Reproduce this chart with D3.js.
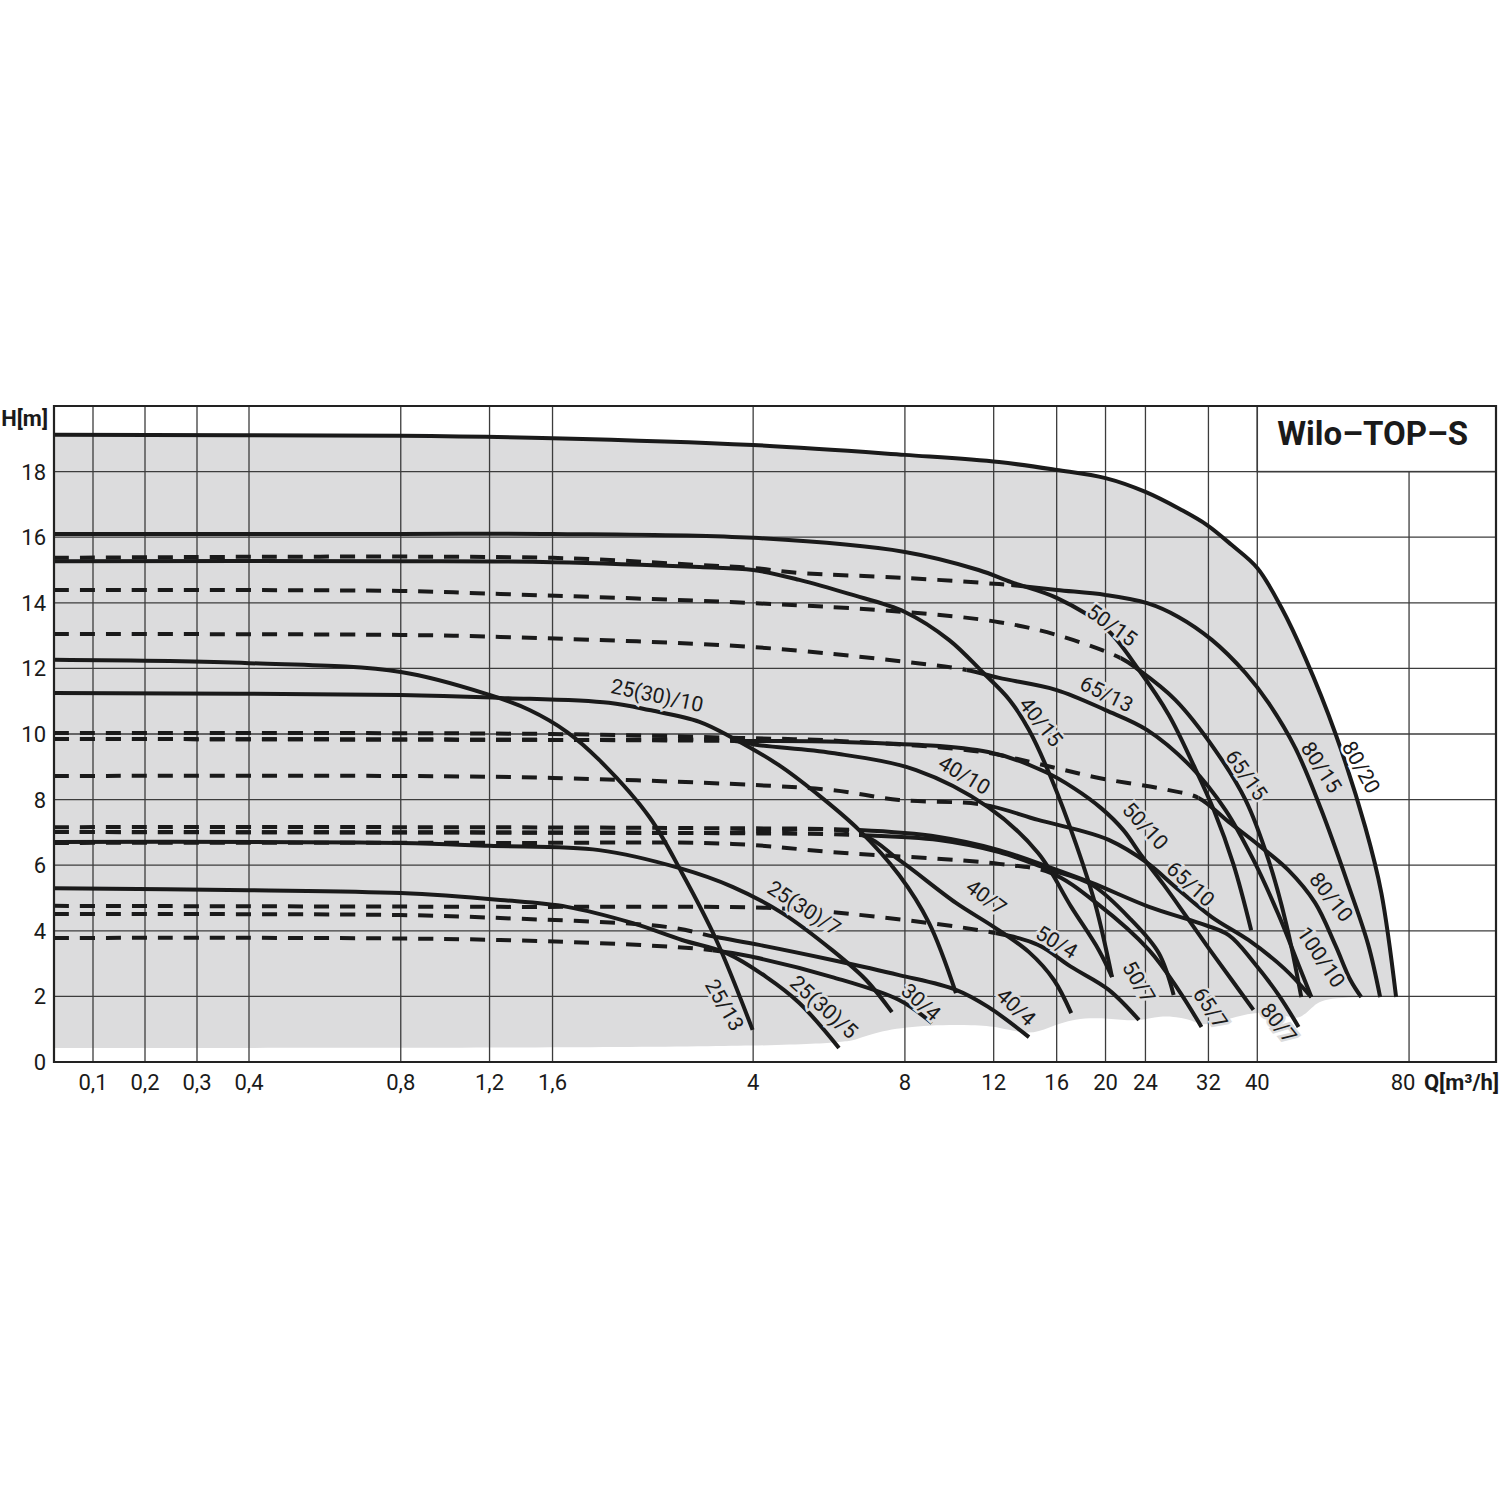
<!DOCTYPE html>
<html>
<head>
<meta charset="utf-8">
<script src="https://cdnjs.cloudflare.com/ajax/libs/d3/7.8.5/d3.min.js"></script>
<style>
  html, body { margin: 0; padding: 0; background: #fff; }
  svg text { font-family: Roboto, "Liberation Sans", sans-serif; fill: #1a1a1a; }
</style>
</head>
<body>
<div id="chart"></div>
<script>
// axis ticks: Q in m3/h, H in m
var qTicks = [0.1, 0.2, 0.3, 0.4, 0.8, 1.2, 1.6, 4, 8, 12, 16, 20, 24, 32, 40, 80];
var hTicks = [0, 2, 4, 6, 8, 10, 12, 14, 16, 18];

// pump curves as [Q, H]
var c80_20 = [[0.025,19.12],[0.8,19.09],[1.6,19.02],[4,18.81],[8,18.51],[12.3,18.29],[16,18.05],[20,17.8],[24,17.38],[28.3,16.83],[31.8,16.37],[35.6,15.76],[40,15.06],[44.7,13.84],[49.8,12.32],[57.1,10.03],[65.5,7.16],[70.5,5.15],[75.4,1.98]];
var c50_15 = [[0.025,16.1],[0.8,16.1],[1.6,16.1],[4,15.98],[8,15.55],[11.2,15.0],[13.0,14.63],[16,14.15],[20,13.23],[23.3,11.95],[26.7,10.58],[29.9,9.05],[32.8,7.68],[35.9,6.01],[38.9,4.02]];
var c40_15 = [[0.025,15.27],[0.8,15.27],[1.6,15.24],[3.13,15.09],[4,15.0],[4.94,14.7],[6.2,14.27],[8,13.72],[9.78,12.87],[11.4,11.89],[12.9,11.04],[14.1,10.12],[15.6,8.66],[17.5,6.62],[19.1,4.79],[20.6,2.59]];
var c80_15 = [[0.025,15.37],[1.6,15.37],[3.13,15.15],[4,15.06],[4.94,14.91],[8,14.76],[12.3,14.57],[13,14.54],[16,14.39],[20,14.24],[24.2,13.99],[27.9,13.57],[32.5,12.87],[37.9,11.86],[42.1,10.95],[47.6,9.57],[53.6,7.68],[60.6,5.4],[66.4,3.57],[70.1,1.98]];
var c65_15 = [[0.025,14.39],[0.8,14.36],[1.26,14.27],[4,13.99],[8,13.72],[12.3,13.41],[16,13.02],[21.4,12.32],[23.3,11.95],[27.5,11.04],[33,9.51],[37.9,7.99],[42.1,6.16],[45.7,4.18],[48.9,1.98]];
var c65_13 = [[0.025,13.05],[0.8,13.02],[1.26,12.96],[4,12.65],[8,12.2],[10.6,11.95],[12.3,11.71],[16,11.34],[20,10.73],[24.2,10.12],[29.6,8.99],[34.6,7.68],[39.3,6.16],[44.1,4.48],[48.3,2.96],[51.2,1.98]];
var c25_13 = [[0.025,12.26],[0.4,12.16],[0.8,11.89],[1.2,11.19],[1.44,10.73],[1.71,10.06],[1.98,9.21],[2.49,7.47],[2.89,5.76],[3.38,3.72],[3.99,0.98]];
var c25_10 = [[0.025,11.25],[0.8,11.19],[1.26,11.1],[2.07,10.95],[2.49,10.73],[3.13,10.37],[3.64,9.88],[4.5,9.05],[5.33,8.2],[6.49,7.07],[7.79,5.7],[8.93,4.24],[10.1,2.1]];
var c80_10 = [[0.025,10.03],[1.6,10.0],[3.75,9.88],[5.92,9.79],[11.4,9.45],[14.7,9.09],[19.4,8.66],[26.7,8.29],[30.6,8.05],[35.1,7.32],[40.2,6.62],[46.1,5.85],[52.1,4.85],[57.1,3.57],[61.2,2.5],[64.3,1.98]];
var c40_10 = [[0.025,9.85],[1.6,9.82],[3.67,9.79],[4.11,9.66],[5.74,9.42],[8.42,8.9],[11.7,7.77],[14.7,6.37],[17.1,4.73],[19.4,3.41],[20.6,2.59]];
var c65_10 = [[0.025,9.85],[1.6,9.82],[3.75,9.79],[5.92,9.76],[11.7,9.45],[15.2,8.84],[17.3,8.35],[19.6,7.74],[21.7,7.07],[23.6,6.28],[26.1,5.4],[28.8,4.48],[32.0,3.48],[35.6,2.5],[39.3,1.59]];
var c50_10 = [[0.025,8.72],[0.8,8.72],[1.6,8.66],[3.96,8.45],[5.74,8.29],[7.79,7.99],[11.5,7.84],[14.7,7.38],[17.7,7.07],[20.3,6.77],[24.2,6.07],[27.5,5.34],[32.5,4.42],[38.4,3.72],[45.1,2.87],[51.2,1.98]];
var c80_7 = [[0.025,7.16],[0.8,7.16],[3.13,7.13],[6.49,7.07],[9.34,6.86],[12.3,6.46],[15.4,5.95],[18.8,5.46],[24.4,4.73],[30.6,4.24],[35.1,3.87],[39.3,3.05],[44.1,2.04],[48.3,1.07]];
var c50_7 = [[0.025,7.01],[3.13,6.98],[6.49,6.92],[9.34,6.77],[12.3,6.4],[15.4,5.88],[18.8,5.4],[22.5,4.33],[25.5,3.32],[27.3,2.04]];
var c40_7 = [[0.025,7.01],[3.13,6.98],[6.49,6.95],[7.79,6.16],[10.1,4.85],[12.0,4.12],[14.1,3.35],[15.8,2.5],[17.1,1.49]];
var c25_7 = [[0.025,6.71],[0.8,6.68],[1.2,6.59],[1.98,6.46],[2.86,5.91],[3.64,5.34],[4.57,4.54],[5.74,3.41],[6.7,2.5],[7.54,1.52]];
var c65_7 = [[0.025,6.68],[1.26,6.68],[3.64,6.65],[5.74,6.4],[12.3,6.04],[15.6,5.76],[19.4,4.79],[24.4,3.41],[27.9,2.2],[31.0,1.07]];
var c25_5 = [[0.025,5.3],[0.4,5.24],[0.8,5.15],[1.26,4.94],[1.71,4.73],[2.3,4.24],[2.89,3.72],[3.54,3.32],[4.25,2.59],[4.94,1.8],[5.92,0.43]];
var c50_4 = [[0.025,4.76],[1.26,4.73],[4.25,4.7],[5.74,4.57],[12.1,3.93],[14.7,3.57],[17.1,2.9],[20.3,2.2],[23.3,1.28]];
var c40_4 = [[0.025,4.51],[0.8,4.48],[1.26,4.39],[2.69,4.12],[3.38,3.81],[4.11,3.57],[5.74,3.11],[7.79,2.65],[10.1,2.2],[11.7,1.68],[14.1,0.76]];
var c30_4 = [[0.025,3.78],[1.26,3.72],[3.32,3.41],[4,3.2],[5.74,2.59],[7.79,1.89],[9.05,1.19]];

// lower edge of the shaded working range
var rangeBottom = [[0.025,0.43],[5.79,0.43],[6.49,0.73],[7.27,0.98],[8.93,1.13],[11.0,1.13],[12.3,1.07],[14.1,0.82],[15.4,1.04],[17.3,1.34],[20.3,1.34],[23.3,1.22],[25.5,1.43],[29.2,1.34],[31.3,1.07],[34.3,1.28],[39.3,1.52],[44.1,1.52],[48.3,1.22],[51.7,1.74],[55.3,1.98],[75.4,1.98]];

// dashTo: Q where the dashed part of a curve ends
var pumps = [
  {name: "80/20", data: c80_20, dashTo: null},
  {name: "50/15", data: c50_15, dashTo: null},
  {name: "40/15", data: c40_15, dashTo: null},
  {name: "80/15", data: c80_15, dashTo: 13},
  {name: "65/15", data: c65_15, dashTo: 21.4},
  {name: "65/13", data: c65_13, dashTo: 10.6},
  {name: "25/13", data: c25_13, dashTo: null},
  {name: "25(30)/10", data: c25_10, dashTo: null},
  {name: "80/10", data: c80_10, dashTo: 30.6},
  {name: "40/10", data: c40_10, dashTo: 3.67},
  {name: "65/10", data: c65_10, dashTo: 3.75},
  {name: "50/10", data: c50_10, dashTo: 11.5},
  {name: "80/7", data: c80_7, dashTo: 6.49},
  {name: "50/7", data: c50_7, dashTo: 6.49},
  {name: "40/7", data: c40_7, dashTo: 6.49},
  {name: "25(30)/7", data: c25_7, dashTo: null},
  {name: "65/7", data: c65_7, dashTo: 15.6},
  {name: "25(30)/5", data: c25_5, dashTo: null},
  {name: "50/4", data: c50_4, dashTo: 12.1},
  {name: "40/4", data: c40_4, dashTo: 3.38},
  {name: "30/4", data: c30_4, dashTo: 3.32}
];

// curve captions: text, anchor Q, anchor H, rotation
var captions = [
  ["25(30)/10", 2.58, 11.18, 12], ["50/15", 20.6, 13.32, 36], ["65/13", 20.1, 11.22, 26],
  ["40/15", 14.9, 10.37, 52], ["40/10", 10.5, 8.75, 31], ["50/10", 24.0, 7.2, 47],
  ["65/15", 38.1, 8.75, 55], ["80/15", 53.6, 8.99, 57], ["80/20", 64.3, 8.99, 61],
  ["65/10", 29.5, 5.43, 42], ["80/10", 56.1, 5.03, 52], ["100/10", 53.6, 3.2, 56],
  ["40/7", 11.6, 5.03, 37], ["25(30)/7", 5.05, 4.7, 33], ["50/4", 16.0, 3.66, 31],
  ["50/7", 23.3, 2.44, 60], ["65/7", 32.3, 1.65, 56], ["80/7", 44.1, 1.19, 52],
  ["25/13", 3.51, 1.74, 60], ["25(30)/5", 5.53, 1.68, 42], ["30/4", 8.61, 1.83, 42],
  ["40/4", 13.3, 1.68, 43]
];

var W = 1500, Ht = 1500;
var xLeft = 54, xRight = 1496, yTop = 406, yBottom = 1062, linW = 195;
var shade = "#dcdcdd", ink = "#1a1a1a";

// the axis is linear up to 0.4 m3/h and logarithmic above
var xLin = d3.scaleLinear().domain([0.025, 0.4]).range([xLeft, xLeft + linW]);
var xLog = d3.scaleLog().domain([0.4, 119]).range([xLeft + linW, xRight]);
function x(q) { return q < 0.4 ? xLin(q) : xLog(q); }
var y = d3.scaleLinear().domain([0, 20]).range([yBottom, yTop]);

var svg = d3.select("#chart").append("svg").attr("width", W).attr("height", Ht);

var line = d3.line().x(function (d) { return x(d[0]); }).y(function (d) { return y(d[1]); })
    .curve(d3.curveCatmullRom.alpha(0.5));
var soft = d3.line().x(function (d) { return x(d[0]); }).y(function (d) { return y(d[1]); }).curve(d3.curveBasis);

// shaded area under the 80/20 curve
var topD = line(c80_20), botD = soft(rangeBottom.slice().reverse());
svg.append("path").attr("d", topD + "L" + botD.slice(1) + "Z").attr("fill", shade);

// grid
var grid = svg.append("g").attr("stroke", "#3c3c3c").attr("stroke-width", 1.3);
qTicks.forEach(function (q) {
    grid.append("line").attr("x1", x(q)).attr("x2", x(q)).attr("y1", yTop).attr("y2", yBottom);
});
hTicks.slice(1).forEach(function (h) {
    grid.append("line").attr("x1", xLeft).attr("x2", xRight).attr("y1", y(h)).attr("y2", y(h));
});

// title box
svg.append("rect").attr("x", x(40)).attr("y", yTop).attr("width", xRight - x(40)).attr("height", y(18) - yTop)
    .attr("fill", "#fff").attr("stroke", "#3c3c3c").attr("stroke-width", 1.5);
svg.append("text").attr("x", (x(40) + xRight) / 2 - 4).attr("y", yTop + 39).attr("text-anchor", "middle")
    .attr("font-size", 33).attr("font-weight", "bold").text("Wilo\u2013TOP\u2013S");

// pump curves, dashed part and solid part
var defs = svg.append("defs");
var curves = svg.append("g").attr("fill", "none").attr("stroke", ink).attr("stroke-width", 4);
pumps.forEach(function (p, i) {
    var xs = p.dashTo ? x(p.dashTo) : xLeft;
    if (p.dashTo) {
        defs.append("clipPath").attr("id", "d" + i).append("rect")
            .attr("x", xLeft).attr("y", yTop).attr("width", xs - xLeft).attr("height", yBottom - yTop);
        curves.append("path").attr("d", line(p.data)).attr("stroke-dasharray", "15,11")
            .attr("clip-path", "url(#d" + i + ")");
    }
    defs.append("clipPath").attr("id", "s" + i).append("rect")
        .attr("x", xs).attr("y", yTop).attr("width", xRight - xs).attr("height", yBottom - yTop);
    curves.append("path").attr("d", line(p.data)).attr("clip-path", "url(#s" + i + ")");
});

// captions with a halo that breaks grid lines and dashes
captions.forEach(function (c) {
    var px = x(c[1]), py = y(c[2]);
    svg.append("text").attr("transform", "translate(" + px + "," + py + ") rotate(" + c[3] + ")")
        .attr("text-anchor", "middle").attr("dy", "0.35em").attr("font-size", 21)
        .attr("stroke", c[0] === "80/20" ? "#fff" : shade).attr("stroke-width", 5)
        .attr("paint-order", "stroke").text(c[0]);
});

// frame
svg.append("path").attr("d", "M" + xLeft + "," + yTop + "H" + xRight + "V" + yBottom + "H" + xLeft + "Z")
    .attr("fill", "none").attr("stroke", "#222").attr("stroke-width", 2.2);

// tick labels
function fmt(v) { return String(v).replace(".", ","); }
svg.selectAll(".qt").data(qTicks).enter().append("text")
    .attr("x", function (d) { return d === 80 ? x(d) - 6 : x(d); })
    .attr("y", yBottom + 28).attr("text-anchor", "middle").attr("font-size", 22).text(fmt);
svg.selectAll(".ht").data(hTicks).enter().append("text")
    .attr("x", xLeft - 8).attr("y", function (d) { return y(d) + 8; })
    .attr("text-anchor", "end").attr("font-size", 22).text(fmt);

svg.append("text").attr("x", xLeft - 6).attr("y", yTop + 20).attr("text-anchor", "end")
    .attr("font-size", 22).attr("font-weight", "bold").text("H[m]");
svg.append("text").attr("x", W - 1).attr("y", yBottom + 28).attr("text-anchor", "end")
    .attr("font-size", 22).attr("font-weight", "bold").text("Q[m\u00b3/h]");
</script>
</body>
</html>
